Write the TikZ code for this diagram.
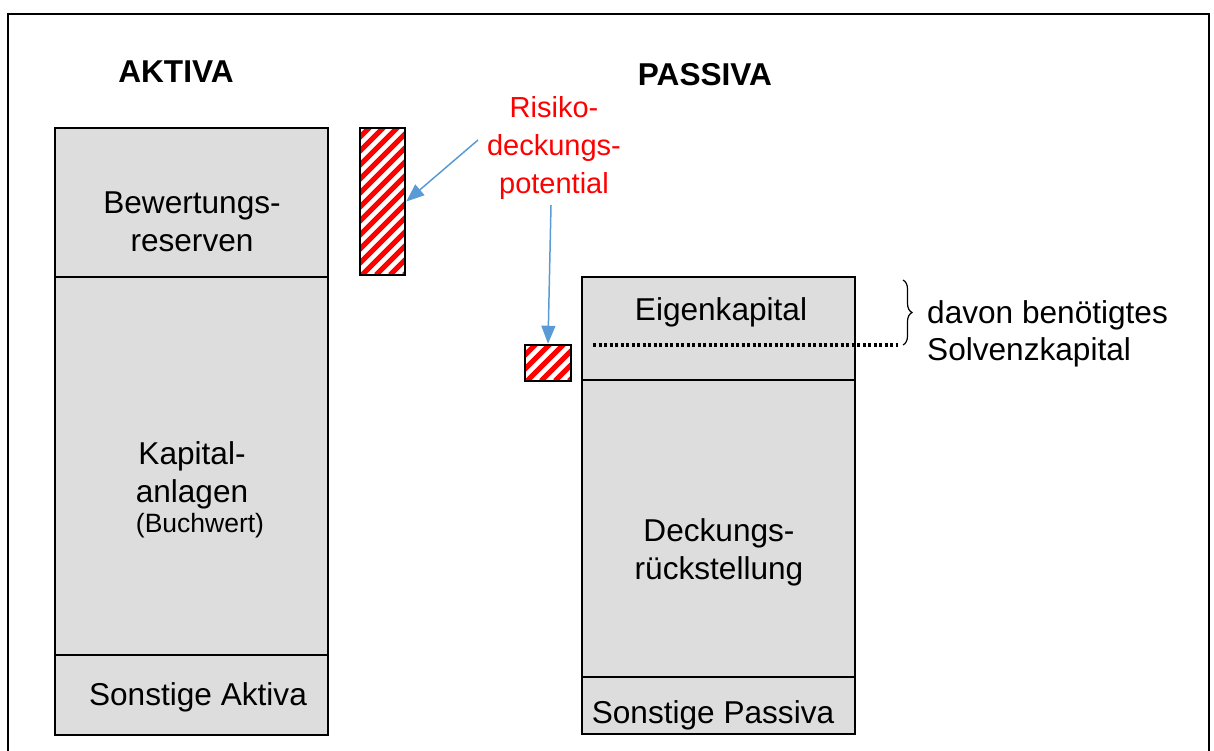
\documentclass[tikz,border=0pt]{standalone}
\usepackage{fontspec}
\setmainfont{Liberation Sans}
\usetikzlibrary{arrows.meta,decorations.pathreplacing,calc}
\definecolor{boxgray}{RGB}{221,221,221}
\definecolor{arrowblue}{RGB}{91,155,213}
\definecolor{hatchred}{RGB}{255,0,0}
\tikzset{
  box/.style={draw=black, line width=2pt, fill=boxgray, inner sep=0pt, minimum width=273pt},
  label/.style={inner sep=0pt, align=center, font=\fontsize{31.6}{38}\selectfont},
  heading/.style={inner sep=0pt, font=\fontsize{31.6}{38}\selectfont\bfseries},
  hatchbox/.style={draw=black, line width=2.5pt, fill=white, inner sep=0pt,
    path picture={
      \foreach \k in {-320,-306,...,60}
        \draw[hatchred, line width=5pt]
          ($(path picture bounding box.south west)+(\k pt,0pt)$) -- ++(320pt,320pt);
    }},
  pointer/.style={draw=arrowblue, line width=1.5pt, -{Triangle[length=18pt,width=14pt]}},
  dotline/.style={line width=3.5pt, dash pattern=on 3pt off 2.5pt},
}
\begin{document}
\begin{tikzpicture}[x=1pt, y=-1pt]
  \useasboundingbox (0,0) rectangle (1214,751);

  % outer frame
  \draw[line width=2pt] (8,770) -- (8,14) -- (1209,14) -- (1209,770);

  % headings
  \node[heading] (aktiva) at (176,72) {AKTIVA};
  \node[heading] (passiva) at (705,75) {PASSIVA};

  % asset side
  \node[box, minimum height=149pt] (bew) at (191.5,202.5) {};
  \node[box, minimum height=378pt] (kap) at (191.5,466) {};
  \node[box, minimum height=80pt] (sonA) at (191.5,695) {};
  \node[label] (bewT) at (192,222) {Bewertungs-\\reserven};
  \node[label] (kapT) at (192,475) {Kapital-\\anlagen};
  \node[inner sep=0pt, font=\fontsize{26.5}{32}\selectfont] (buchT) at (200,526) {(Buchwert)};
  \node[label] (sonAT) at (198,697) {Sonstige Aktiva};

  % liability side
  \node[box, minimum height=103pt] (eig) at (718.5,328.5) {};
  \node[box, minimum height=297pt] (deck) at (718.5,528.5) {};
  \node[box, minimum height=57pt] (sonP) at (718.5,705.5) {};
  \node[label] (eigT) at (721,312) {Eigenkapital};
  \node[label] (deckT) at (719,552) {Deckungs-\\rückstellung};
  \node[label] (sonPT) at (713,715) {Sonstige Passiva};

  % required solvency capital
  \coordinate (dotL) at (593,345);
  \coordinate (dotR) at (898,345);
  \draw[dotline] (dotL) -- (dotR);
  \coordinate (braceTop) at (903,280);
  \coordinate (braceBot) at (903,345);
  \draw[line width=1.2pt, decorate, decoration={brace, amplitude=9pt}] (braceTop) -- (braceBot);
  \node[inner sep=0pt, align=left, anchor=west, font=\fontsize{31.6}{37}\selectfont] (solv) at (927,333.5)
    {davon benötigtes\\Solvenzkapital};

  % risk capacity
  \node[hatchbox, minimum width=45pt, minimum height=147pt] (hatchA) at (382.5,201.5) {};
  \node[hatchbox, minimum width=46pt, minimum height=36pt] (hatchB) at (548,363) {};
  \node[inner sep=0pt, align=center, text=hatchred, font=\fontsize{29}{38}\selectfont] (rdp) at (554,148)
    {Risiko-\\deckungs-\\potential};
  \coordinate (arrA) at (478,140);
  \coordinate (arrB) at (551,205);
  \draw[pointer] (arrA) -- (hatchA.east);
  \draw[pointer] (arrB) -- (hatchB.north);
\end{tikzpicture}
\end{document}
